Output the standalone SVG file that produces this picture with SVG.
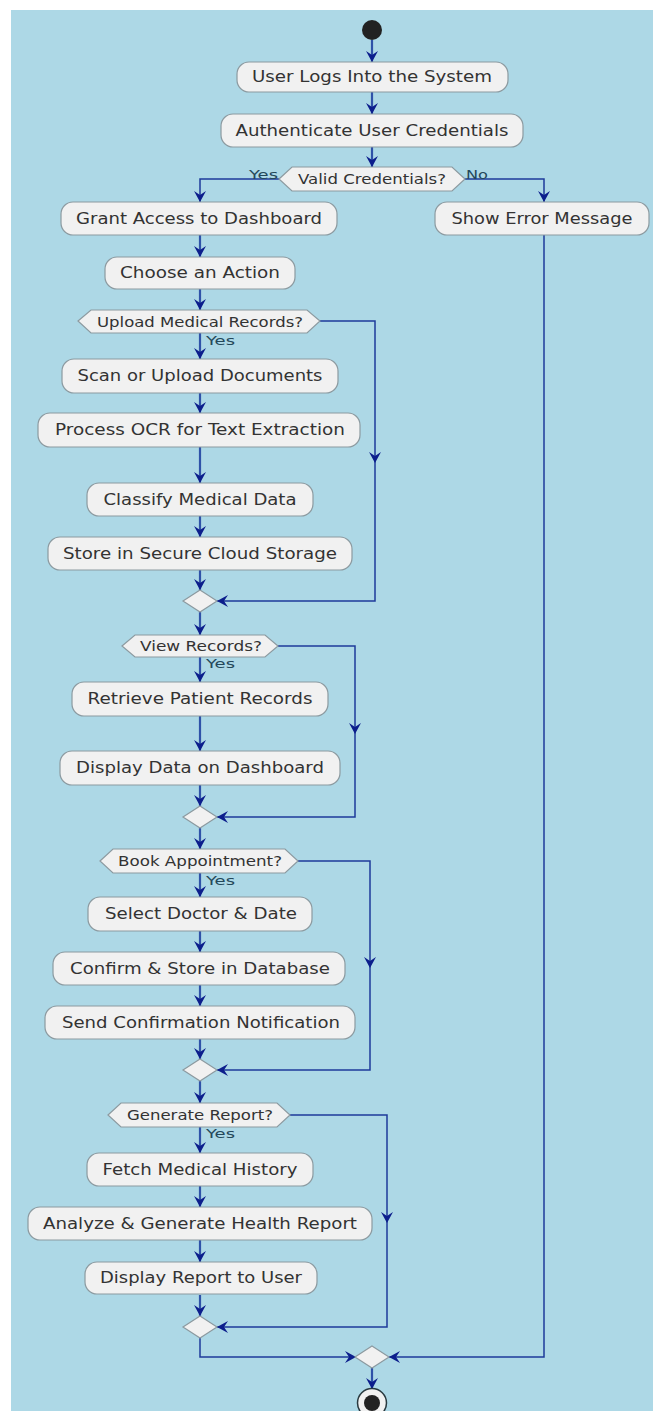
<svg xmlns="http://www.w3.org/2000/svg" width="653" height="1411" viewBox="0 0 653 1411">
<defs>
<style>
.bg{fill:#ffffff}
.panel{fill:#add8e6}
.box{fill:#f1f1f1;stroke:#8c9aa0;stroke-width:1.2}
.hex{fill:#f1f1f1;stroke:#8c9aa0;stroke-width:1.2}
.t{font-family:"DejaVu Sans",sans-serif;font-size:15px;fill:#333333;text-anchor:middle;dominant-baseline:central}
.ht{font-family:"DejaVu Sans",sans-serif;font-size:14px;fill:#333333;text-anchor:middle;dominant-baseline:central}
.lbl{font-family:"DejaVu Sans",sans-serif;font-size:13px;fill:#24485a;dominant-baseline:central}
.main{fill:none;stroke:#2f52a8;stroke-width:2.2}
.side{fill:none;stroke:#1e3a9a;stroke-width:1.5}
.ah{fill:#0c1e8c}
</style>
<path id="adown" d="M0,0 L-6,-11 L0,-7 L6,-11 Z"/>
<path id="aright" d="M0,0 L-11,-6 L-7,0 L-11,6 Z"/>
<path id="aleft" d="M0,0 L11,-6 L7,0 L11,6 Z"/>
</defs>
<rect class="bg" x="0" y="0" width="653" height="1411"/>
<rect class="panel" x="11" y="10" width="642" height="1401"/>

<g id="connectors">
<path class="main" d="M372,40 V62"/><use href="#adown" x="372" y="62" class="ah"/>
<path class="main" d="M372,92 V114"/><use href="#adown" x="372" y="114" class="ah"/>
<path class="main" d="M372,147 V167"/><use href="#adown" x="372" y="167" class="ah"/>
<path class="side" d="M279,179 H200 V202"/><use href="#adown" x="200" y="202" class="ah"/>
<path class="side" d="M465,179 H544 V202"/><use href="#adown" x="544" y="202" class="ah"/>
<path class="main" d="M200,235 V257"/><use href="#adown" x="200" y="257" class="ah"/>
<path class="main" d="M200,289 V310"/><use href="#adown" x="200" y="310" class="ah"/>
<path class="main" d="M200,333 V359"/><use href="#adown" x="200" y="359" class="ah"/>
<path class="main" d="M200,393 V413"/><use href="#adown" x="200" y="413" class="ah"/>
<path class="main" d="M200,447 V483"/><use href="#adown" x="200" y="483" class="ah"/>
<path class="main" d="M200,516 V537"/><use href="#adown" x="200" y="537" class="ah"/>
<path class="main" d="M200,570 V590"/><use href="#adown" x="200" y="590" class="ah"/>
<path class="side" d="M320,321 H375 V601 H217"/><use href="#adown" x="375" y="463" class="ah"/><use href="#aleft" x="217" y="601" class="ah"/>
<path class="main" d="M200,612 V635"/><use href="#adown" x="200" y="635" class="ah"/>
<path class="main" d="M200,657 V682"/><use href="#adown" x="200" y="682" class="ah"/>
<path class="main" d="M200,716 V751"/><use href="#adown" x="200" y="751" class="ah"/>
<path class="main" d="M200,785 V806"/><use href="#adown" x="200" y="806" class="ah"/>
<path class="side" d="M278,646 H355 V817 H217"/><use href="#adown" x="355" y="734" class="ah"/><use href="#aleft" x="217" y="817" class="ah"/>
<path class="main" d="M200,828 V849"/><use href="#adown" x="200" y="849" class="ah"/>
<path class="main" d="M200,873 V897"/><use href="#adown" x="200" y="897" class="ah"/>
<path class="main" d="M200,931 V952"/><use href="#adown" x="200" y="952" class="ah"/>
<path class="main" d="M200,985 V1006"/><use href="#adown" x="200" y="1006" class="ah"/>
<path class="main" d="M200,1039 V1059"/><use href="#adown" x="200" y="1059" class="ah"/>
<path class="side" d="M298,861 H370 V1070 H217"/><use href="#adown" x="370" y="968" class="ah"/><use href="#aleft" x="217" y="1070" class="ah"/>
<path class="main" d="M200,1081 V1103"/><use href="#adown" x="200" y="1103" class="ah"/>
<path class="main" d="M200,1127 V1153"/><use href="#adown" x="200" y="1153" class="ah"/>
<path class="main" d="M200,1186 V1207"/><use href="#adown" x="200" y="1207" class="ah"/>
<path class="main" d="M200,1240 V1262"/><use href="#adown" x="200" y="1262" class="ah"/>
<path class="main" d="M200,1295 V1316"/><use href="#adown" x="200" y="1316" class="ah"/>
<path class="side" d="M290,1115 H387 V1327 H217"/><use href="#adown" x="387" y="1223" class="ah"/><use href="#aleft" x="217" y="1327" class="ah"/>
<path class="side" d="M200,1338 V1357 H356"/><use href="#aright" x="356" y="1357" class="ah"/>
<path class="side" d="M544,235 V1357 H389"/><use href="#aleft" x="389" y="1357" class="ah"/>
<path class="main" d="M372,1368 V1389"/><use href="#adown" x="372" y="1389" class="ah"/>
</g>

<g id="start"><circle cx="372" cy="30" r="10" fill="#222222"/></g>

<g id="n1"><rect class="box" x="237" y="62" width="271" height="30" rx="12"/><text class="t" x="372" y="77" textLength="240" lengthAdjust="spacingAndGlyphs">User Logs Into the System</text></g>
<g id="n2"><rect class="box" x="221" y="114" width="302" height="33" rx="12"/><text class="t" x="372" y="130.5" textLength="273" lengthAdjust="spacingAndGlyphs">Authenticate User Credentials</text></g>
<g id="d1"><polygon class="hex" points="279,179 292,167 452,167 465,179 452,191 292,191"/><text class="ht" x="372" y="179" textLength="148" lengthAdjust="spacingAndGlyphs">Valid Credentials?</text></g>
<text class="lbl" x="249" y="174" textLength="29" lengthAdjust="spacingAndGlyphs">Yes</text>
<text class="lbl" x="466" y="174" textLength="22" lengthAdjust="spacingAndGlyphs">No</text>
<g id="n3"><rect class="box" x="61" y="202" width="276" height="33" rx="12"/><text class="t" x="199" y="218.5" textLength="246" lengthAdjust="spacingAndGlyphs">Grant Access to Dashboard</text></g>
<g id="n4"><rect class="box" x="435" y="202" width="214" height="33" rx="12"/><text class="t" x="542" y="218.5" textLength="181" lengthAdjust="spacingAndGlyphs">Show Error Message</text></g>
<g id="n5"><rect class="box" x="105" y="257" width="190" height="32" rx="12"/><text class="t" x="200" y="273" textLength="160" lengthAdjust="spacingAndGlyphs">Choose an Action</text></g>
<g id="d2"><polygon class="hex" points="78,321 91,310 307,310 320,321 307,333 91,333"/><text class="ht" x="200" y="321.5" textLength="206" lengthAdjust="spacingAndGlyphs">Upload Medical Records?</text></g>
<text class="lbl" x="206" y="340" textLength="29" lengthAdjust="spacingAndGlyphs">Yes</text>
<g id="n6"><rect class="box" x="62" y="359" width="276" height="34" rx="12"/><text class="t" x="200" y="376" textLength="245" lengthAdjust="spacingAndGlyphs">Scan or Upload Documents</text></g>
<g id="n7"><rect class="box" x="38" y="413" width="322" height="34" rx="12"/><text class="t" x="200" y="430" textLength="290" lengthAdjust="spacingAndGlyphs">Process OCR for Text Extraction</text></g>
<g id="n8"><rect class="box" x="87" y="483" width="226" height="33" rx="12"/><text class="t" x="200" y="499.5" textLength="193" lengthAdjust="spacingAndGlyphs">Classify Medical Data</text></g>
<g id="n9"><rect class="box" x="48" y="537" width="304" height="33" rx="12"/><text class="t" x="200" y="553.5" textLength="274" lengthAdjust="spacingAndGlyphs">Store in Secure Cloud Storage</text></g>
<g id="m1"><polygon class="hex" points="200,590 217,601 200,612 183,601"/></g>
<g id="d3"><polygon class="hex" points="122,646 135,635 265,635 278,646 265,657 135,657"/><text class="ht" x="201" y="646" textLength="122" lengthAdjust="spacingAndGlyphs">View Records?</text></g>
<text class="lbl" x="206" y="663" textLength="29" lengthAdjust="spacingAndGlyphs">Yes</text>
<g id="n10"><rect class="box" x="72" y="682" width="256" height="34" rx="12"/><text class="t" x="200" y="699" textLength="225" lengthAdjust="spacingAndGlyphs">Retrieve Patient Records</text></g>
<g id="n11"><rect class="box" x="60" y="751" width="280" height="34" rx="12"/><text class="t" x="200" y="768" textLength="248" lengthAdjust="spacingAndGlyphs">Display Data on Dashboard</text></g>
<g id="m2"><polygon class="hex" points="200,806 217,817 200,828 183,817"/></g>
<g id="d4"><polygon class="hex" points="100,861 113,849 285,849 298,861 285,873 113,873"/><text class="ht" x="200" y="861" textLength="164" lengthAdjust="spacingAndGlyphs">Book Appointment?</text></g>
<text class="lbl" x="206" y="880" textLength="29" lengthAdjust="spacingAndGlyphs">Yes</text>
<g id="n12"><rect class="box" x="88" y="897" width="224" height="34" rx="12"/><text class="t" x="201" y="914" textLength="192" lengthAdjust="spacingAndGlyphs">Select Doctor &amp; Date</text></g>
<g id="n13"><rect class="box" x="53" y="952" width="292" height="33" rx="12"/><text class="t" x="200" y="968.5" textLength="260" lengthAdjust="spacingAndGlyphs">Confirm &amp; Store in Database</text></g>
<g id="n14"><rect class="box" x="45" y="1006" width="310" height="33" rx="12"/><text class="t" x="201" y="1022.5" textLength="278" lengthAdjust="spacingAndGlyphs">Send Confirmation Notification</text></g>
<g id="m3"><polygon class="hex" points="200,1059 217,1070 200,1081 183,1070"/></g>
<g id="d5"><polygon class="hex" points="108,1115 121,1103 277,1103 290,1115 277,1127 121,1127"/><text class="ht" x="200" y="1115" textLength="146" lengthAdjust="spacingAndGlyphs">Generate Report?</text></g>
<text class="lbl" x="206" y="1133" textLength="29" lengthAdjust="spacingAndGlyphs">Yes</text>
<g id="n15"><rect class="box" x="87" y="1153" width="226" height="33" rx="12"/><text class="t" x="200" y="1169.5" textLength="195" lengthAdjust="spacingAndGlyphs">Fetch Medical History</text></g>
<g id="n16"><rect class="box" x="28" y="1207" width="344" height="33" rx="12"/><text class="t" x="200" y="1223.5" textLength="314" lengthAdjust="spacingAndGlyphs">Analyze &amp; Generate Health Report</text></g>
<g id="n17"><rect class="box" x="85" y="1262" width="232" height="32" rx="12"/><text class="t" x="201" y="1278" textLength="202" lengthAdjust="spacingAndGlyphs">Display Report to User</text></g>
<g id="m4"><polygon class="hex" points="200,1316 217,1327 200,1338 183,1327"/></g>
<g id="m5"><polygon class="hex" points="372,1346 389,1357 372,1368 355,1357"/></g>
<g id="end"><circle cx="372" cy="1403" r="14.5" fill="#f1f1f1" stroke="#2a3a40" stroke-width="1.5"/><circle cx="372" cy="1403" r="8" fill="#222222"/></g>
</svg>
